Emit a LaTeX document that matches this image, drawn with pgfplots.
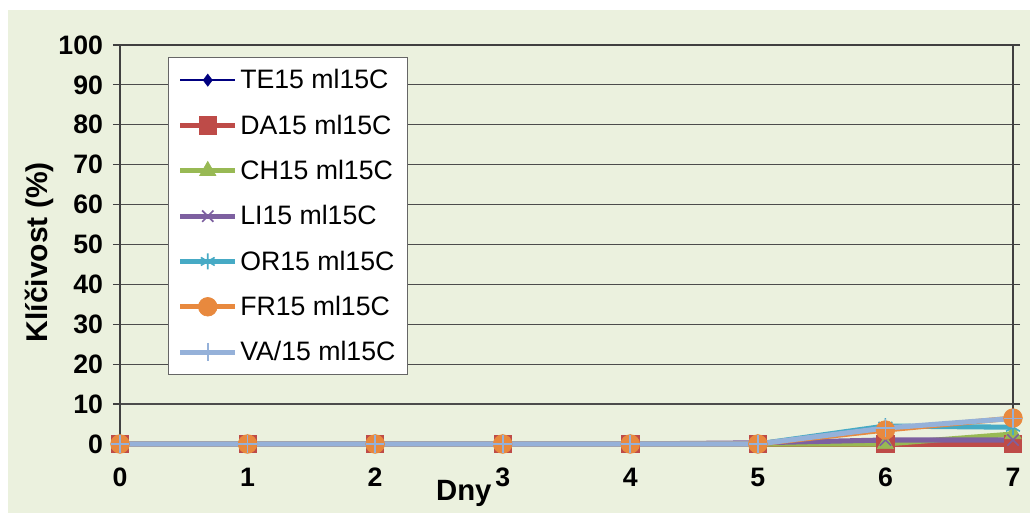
\documentclass[border=0pt]{standalone}
\usepackage{pgfplots}
\pgfplotsset{compat=1.18}
\usepackage{fontspec}
\setmainfont{Liberation Sans}
\definecolor{bg}{HTML}{EBF1DE}
\definecolor{cTE}{HTML}{000080}
\definecolor{cDA}{HTML}{BE4B48}
\definecolor{cCH}{HTML}{98B954}
\definecolor{cLI}{HTML}{7D60A0}
\definecolor{cOR}{HTML}{46AAC5}
\definecolor{cFR}{HTML}{E8893E}
\definecolor{cVA}{HTML}{95B1D9}
\begin{document}
\begin{tikzpicture}
\path[use as bounding box] (-90pt,-51.75pt) rectangle (682.5pt,333pt);
\fill[white] (-90pt,-51.75pt) rectangle (682.5pt,333pt);
\fill[bg] (-84pt,-51.75pt) rectangle (682.5pt,325.5pt);
\begin{axis}[
  scale only axis, width=669.75pt, height=299.25pt,
  xmin=0, xmax=7, ymin=0, ymax=100,
  xtick={0,...,7}, ytick={0,10,...,100},
  /pgf/number format/assume math mode=true,
  ymajorgrids, grid style={black!70, line width=0.9pt},
  axis line style={black!75, line width=0.9pt},
  clip=false,
  tick align=outside,
  major tick length=5.25pt,
  ytick style={black!75, line width=0.9pt},
  xtick style={draw=none},
  ticklabel style={font=\fontsize{20}{24}\selectfont\bfseries},
  yticklabel style={xshift=-4pt},
  xticklabel style={yshift=-9pt},
  xlabel={Dny},
  ylabel={Klíčivost (\%)},
  xlabel style={font=\fontsize{22}{26}\selectfont\bfseries, at={(axis description cs:0.385,-0.125)}, anchor=center},
  ylabel style={font=\fontsize{22.5}{26}\selectfont\bfseries, at={(axis description cs:-0.0907,0.481)}, anchor=center, rotate=0},
  legend style={at={(axis description cs:0.0538,0.970)}, anchor=north west,
    fill=white, draw=black!60, line width=0.8pt,
    font=\fontsize{20}{24}\selectfont, row sep=14pt, inner xsep=7pt, inner ysep=7pt,
    legend cell align=left},
  legend image code/.code={
    \draw[mark repeat=2,mark phase=2] plot coordinates {(0cm,0cm) (0.72cm,0cm) (1.44cm,0cm)};
  },
]
\addplot[cTE, line width=1.5pt, mark=diamond*, mark size=4.5pt, mark options={solid, fill=cTE, line width=0.5pt}]
  coordinates {(0,0) (1,0) (2,0) (3,0) (4,0) (5,0.4) (6,1) (7,1)};
\addlegendentry{TE15 ml15C}
\addplot[cDA, line width=3.8pt, mark=square*, mark size=6.5pt, mark options={solid, fill=cDA, line width=0.5pt}]
  coordinates {(0,0) (1,0) (2,0) (3,0) (4,0) (5,0) (6,0) (7,0)};
\addlegendentry{DA15 ml15C}
\addplot[cCH, line width=3.8pt, mark=triangle*, mark size=7pt, mark options={solid, fill=cCH, line width=0.5pt}]
  coordinates {(0,0) (1,0) (2,0) (3,0) (4,0) (5,0) (6,0) (7,2.5)};
\addlegendentry{CH15 ml15C}
\addplot[cLI, line width=3.8pt, mark=x, mark size=6pt, mark options={solid, line width=1.2pt}]
  coordinates {(0,0) (1,0) (2,0) (3,0) (4,0) (5,0.3) (6,1) (7,1)};
\addlegendentry{LI15 ml15C}
\addplot[cOR, line width=3.8pt, mark=asterisk, mark size=6pt, mark options={solid, line width=1.2pt}]
  coordinates {(0,0) (1,0) (2,0) (3,0) (4,0) (5,0) (6,4.5) (7,4.2)};
\addlegendentry{OR15 ml15C}
\addplot[cFR, line width=3.8pt, mark=*, mark size=7pt, mark options={solid, fill=cFR, line width=0.5pt}]
  coordinates {(0,0) (1,0) (2,0) (3,0) (4,0) (5,0) (6,3.5) (7,6.5)};
\addlegendentry{FR15 ml15C}
\addplot[cVA, line width=3.8pt, mark=+, mark size=7pt, mark options={solid, line width=1.2pt}]
  coordinates {(0,0) (1,0) (2,0) (3,0) (4,0) (5,0) (6,4) (7,6.4)};
\addlegendentry{VA/15 ml15C}
\end{axis}
\end{tikzpicture}
\end{document}
